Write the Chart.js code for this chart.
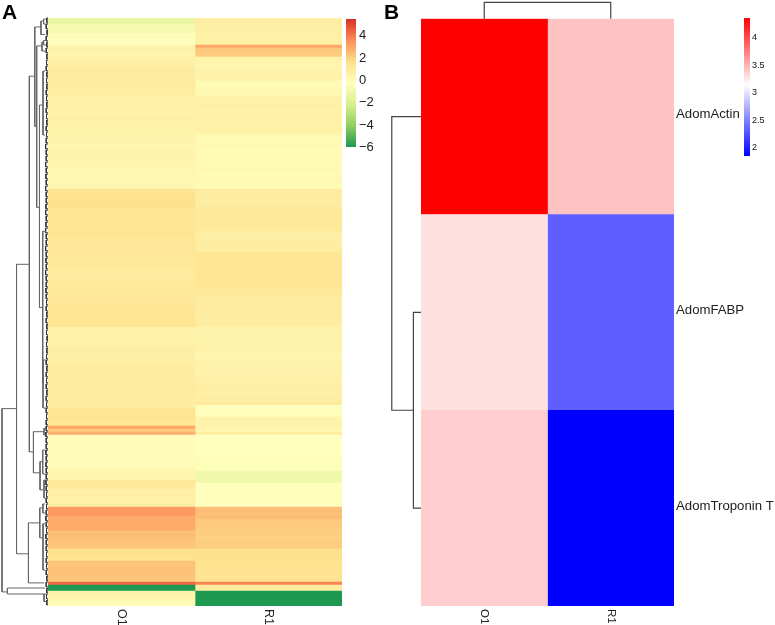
<!DOCTYPE html>
<html>
<head>
<meta charset="utf-8">
<title>Heatmaps</title>
<script src="https://cdn.jsdelivr.net/npm/chart.js@4"></script>
<style>
  html, body { margin: 0; padding: 0; background: #fff; overflow: hidden; }
  canvas { position: absolute; top: 0; }
  .panel { position: absolute; top: 0; font: bold 21px "Liberation Sans", Arial, sans-serif; color: #000; }
</style>
</head>
<body>
<canvas id="heatA" width="380" height="625" style="left:0"></canvas>
<canvas id="scaleA" width="40" height="170" style="left:340px"></canvas>
<canvas id="heatB" width="395" height="625" style="left:380px"></canvas>
<canvas id="scaleB" width="40" height="175" style="left:735px"></canvas>
<div class="panel" style="left:2px">A</div>
<div class="panel" style="left:384px">B</div>
<script>
// column labels shared by both panels
const columns = ['O1', 'R1'];

// panel A, one value per row, top to bottom
const o1Values = [
  -1.3,-1.3,-0.8,-0.8,-0.8,-0.4,-0.4,-0.3,-0.3,0.4,
  0.5,0.5,0.4,0.7,0.7,0.8,0.8,1.0,1.0,1.0,
  0.9,0.9,1.0,0.8,0.8,0.9,0.7,0.7,0.7,0.7,
  0.7,0.6,0.6,0.7,0.7,0.6,0.6,0.6,0.5,0.5,
  0.5,0.5,0.4,0.4,0.5,0.5,0.5,0.4,0.4,0.4,
  0.3,0.3,0.3,0.2,0.2,0.3,0.3,1.4,1.5,1.5,
  1.5,1.6,1.6,1.5,1.4,1.4,1.4,1.4,1.4,1.3,
  1.4,1.4,1.3,1.2,1.2,1.2,1.2,1.2,1.2,1.2,
  1.1,1.1,1.1,1.0,1.0,1.0,1.0,1.0,1.1,1.1,
  1.1,1.2,1.2,1.2,1.2,1.2,1.3,1.3,1.3,1.3,
  1.3,1.4,1.4,0.6,0.6,0.6,0.6,0.6,0.6,0.7,
  0.8,0.8,0.8,0.8,0.7,0.7,0.9,0.9,0.9,0.9,
  0.8,0.9,0.9,1.0,1.0,1.0,0.9,0.9,0.8,0.8,
  1.4,1.4,1.4,1.5,1.3,1.3,3.0,2.2,2.8,0.0,
  0.0,-0.1,0.0,0.0,0.0,-0.1,0.0,0.0,0.0,0.0,
  0.3,0.3,0.4,0.4,1.1,1.2,1.1,0.7,0.7,0.8,
  0.7,0.7,0.8,3.3,3.3,3.3,2.9,2.9,2.9,2.9,
  2.9,2.4,2.5,2.4,2.4,2.3,2.3,1.6,1.6,1.5,
  1.5,2.3,2.3,2.4,2.3,2.4,2.3,2.2,4.3,-5.9,
  -5.9,0.5,0.5,0.4,0.2,0.1
];
const r1Values = [
  0.8,0.8,0.8,0.8,0.8,0.7,0.7,0.7,0.7,3.0,
  2.2,2.2,2.1,0.5,0.5,0.4,0.4,0.5,0.6,0.6,
  0.6,0.1,0.1,0.1,0.2,0.2,0.6,0.6,0.7,0.7,
  0.6,0.6,0.7,0.7,0.7,0.6,0.6,0.7,0.6,0.1,
  0.1,0.1,0.2,0.1,0.1,0.1,0.1,0.2,0.1,0.1,
  0.2,0.1,0.1,0.2,0.2,0.1,0.1,0.9,0.9,0.9,
  0.8,0.8,0.8,1.1,1.1,1.1,1.1,1.1,1.1,1.1,
  1.1,0.8,0.8,0.8,0.9,0.8,0.8,0.8,1.3,1.3,
  1.3,1.4,1.3,1.3,1.3,1.3,1.4,1.4,1.3,1.3,
  1.1,1.1,1.1,0.9,0.9,0.9,0.9,1.0,0.9,0.9,
  0.9,0.9,0.9,0.5,0.5,0.5,0.5,0.5,0.6,0.5,
  0.5,0.5,0.4,0.4,0.5,0.5,0.5,0.5,0.5,0.7,
  0.7,0.7,0.8,0.8,0.7,0.7,0.8,0.8,1.1,-0.1,
  -0.1,-0.1,-0.1,0.5,0.5,0.5,0.5,0.3,0.9,-0.2,
  -0.2,-0.2,-0.2,-0.2,-0.2,-0.2,-0.4,-0.4,-0.4,-0.4,
  -0.4,-1.0,-1.0,-1.0,-1.0,-0.3,-0.3,-0.2,-0.3,-0.3,
  -0.2,-0.3,-0.2,2.4,2.5,2.4,2.5,2.2,2.2,2.2,
  2.1,2.1,2.1,2.0,2.1,2.1,2.1,1.6,1.6,1.6,
  1.6,1.5,1.5,1.4,1.5,1.5,1.4,1.5,3.8,0.9,
  0.9,-5.9,-5.9,-5.9,-5.9,-5.9
];

// panel A dendrogram: [height, rowA, rowB, childHeightA, childHeightB]
const treeA = [
  [.313,130.2,191.3,.214,.276],
  [.276,190,192,.02,.027],
  [.214,82.1,178.6,.127,.133],
  [.127,19.4,144.6,.09,.099],
  [.09,3,36.1,.048,.077],
  [.048,1,5.5,.03,.02],
  [.03,0.4,2,.015,.015],
  [.077,9.3,63.1,.041,.058],
  [.041,8,11,.03,.02],
  [.03,7.5,9,.015,.012],
  [.058,29,96.5,.034,.036],
  [.034,17.7,39,.02,.02],
  [.036,71.1,121.9,.014,.034],
  [.034,114,130,.014,.014],
  [.099,137.9,151.6,.027,.054],
  [.027,136.8,139,.012,.012],
  [.054,147.9,157.3,.036,.027],
  [.036,144,152,.02,.015],
  [.027,154,160,.012,.015],
  [.133,168.3,188.3,.056,.027],
  [.056,163.3,173.3,.035,.034],
  [.035,162,165,.02,.02],
  [.034,168.6,184,.02,.02],
  [.027,192,194.5,.012,.012]
];
// tiny merges at the leaf end: [height, rowA, rowB]
const leavesA = [
  [.008,0,1.6],[.012,2,3.6],[.006,4,5.6],[.012,6,7.6],[.008,8,9.6],[.012,10,11.6],[.008,12,13.6],[.01,14,15.6],
  [.012,16,17.6],[.008,18,19.6],[.01,20,21.6],[.008,22,23.6],[.012,24,25.6],[.01,26,27.6],[.008,28,29.6],[.012,30,31.6],
  [.01,32,33.6],[.008,34,35.6],[.012,36,37.6],[.01,38,39.6],[.012,40,41.6],[.016,42,43.6],[.012,44,45.6],[.012,46,47.6],
  [.016,48,49.6],[.012,50,51.6],[.014,52,53.6],[.012,54,55.6],[.016,56,57.6],[.012,58,59.6],[.012,60,61.6],[.014,62,63.6],
  [.016,64,65.6],[.012,66,67.6],[.014,68,69.6],[.016,70,71.6],[.012,72,73.6],[.012,74,75.6],[.016,76,77.6],[.012,78,79.6],
  [.014,80,81.6],[.012,82,83.6],[.016,84,85.6],[.012,86,87.6],[.012,88,89.6],[.014,90,91.6],[.012,92,93.6],[.01,94,95.6],
  [.012,96,97.6],[.008,98,99.6],[.012,100,101.6],[.008,102,103.6],[.01,104,105.6],[.006,106,107.6],[.01,108,109.6],[.008,110,111.6],
  [.01,112,113.6],[.012,114,115.6],[.008,116,117.6],[.012,118,119.6],[.01,120,121.6],[.012,122,123.6],[.008,124,125.6],[.012,126,127.6],
  [.01,128,129.6],[.012,130,131.6],[.01,132,133.6],[.012,134,135.6],[.012,136,137.6],[.014,138,139.6],[.012,140,141.6],[.012,142,143.6],
  [.014,144,145.6],[.012,146,147.6],[.014,148,149.6],[.012,150,151.6],[.012,152,153.6],[.014,154,155.6],[.012,156,157.6],[.01,158,159.6],
  [.012,160,161.6],[.01,162,163.6],[.012,164,165.6],[.014,166,167.6],[.012,168,169.6],[.01,170,171.6],[.014,172,173.6],[.012,174,175.6],
  [.012,176,177.6],[.01,178,179.6],[.012,180,181.6],[.01,182,183.6],[.012,184,185.6],[.008,186,187.6],[.012,188,189.6],[.008,190,191.6],
  [.01,192,193.6],[.008,194,195.6]
];

// panel A colour scale
const scaleAMin = -5.95;
const scaleAMax = 5.5;
const scaleATicks = [-6, -4, -2, 0, 2, 4];
const rampA = ['#1a9850', '#91cf60', '#d9ef8b', '#ffffbf', '#fee08b', '#fc8d59', '#d73027'];

// panel B
const rowsB = ['AdomActin', 'AdomFABP', 'AdomTroponin T'];
const o1ValuesB = [4.36, 3.29, 3.38];
const r1ValuesB = [3.43, 2.33, 1.85];
const treeB = [
  [.231, .5, 2, 0, .06],
  [.06, 1.5, 2.5, 0, 0]
];
const columnTreeB = [.083, .5, 1.5];
const scaleBMin = 1.85;
const scaleBMid = 3.14;
const scaleBMax = 4.36;
const scaleBTicks = [2, 2.5, 3, 3.5, 4];

const hexToRgb = hex => [1, 3, 5].map(i => parseInt(hex.slice(i, i + 2), 16));
const mix = (a, b, t) => {
  const ca = hexToRgb(a), cb = hexToRgb(b);
  const c = ca.map((v, i) => Math.round(v + (cb[i] - v) * t));
  return `rgb(${c[0]},${c[1]},${c[2]})`;
};

const colorA = v => {
  const pos = Math.min(Math.max((v - scaleAMin) / (scaleAMax - scaleAMin), 0), 1) * (rampA.length - 1);
  const i = Math.min(Math.floor(pos), rampA.length - 2);
  return mix(rampA[i], rampA[i + 1], pos - i);
};
const colorB = v => {
  if (v >= scaleBMid) return mix('#ffffff', '#ff0000', (v - scaleBMid) / (scaleBMax - scaleBMid));
  return mix('#ffffff', '#0000ff', (scaleBMid - v) / (scaleBMid - scaleBMin));
};

const lineSet = (data, color, width) => ({
  type: 'scatter',
  indexAxis: 'x',
  xAxisID: 'x',
  yAxisID: 'yTree',
  data: data,
  showLine: true,
  fill: false,
  clip: false,
  borderColor: color,
  borderWidth: width,
  pointRadius: 0
});
const bracket = (h, a, b, ha, hb) => [{ x: -ha, y: a }, { x: -h, y: a }, { x: -h, y: b }, { x: -hb, y: b }];

const heatSet = (span, colors) => ({
  type: 'bar',
  indexAxis: 'y',
  xAxisID: 'x',
  yAxisID: 'y',
  data: colors.map(() => span),
  backgroundColor: colors,
  borderWidth: 0,
  grouped: false,
  barPercentage: 1,
  categoryPercentage: 1
});

// rotated column names, centred under each column
const columnLabels = font => ({
  id: 'columnLabels',
  afterDraw(chart) {
    const { ctx, scales, chartArea } = chart;
    ctx.save();
    ctx.font = font;
    ctx.fillStyle = '#222';
    ctx.textBaseline = 'middle';
    columns.forEach((name, i) => {
      ctx.save();
      ctx.translate(scales.x.getPixelForValue(i + 0.5), chartArea.bottom + 3);
      ctx.rotate(Math.PI / 2);
      ctx.fillText(name, 0, 0);
      ctx.restore();
    });
    ctx.restore();
  }
});

const baseOptions = {
  responsive: false,
  animation: false,
  events: [],
  plugins: { legend: { display: false }, tooltip: { enabled: false } }
};

// panel A
new Chart(document.getElementById('heatA'), {
  type: 'bar',
  data: {
    labels: o1Values.map((v, i) => i),
    datasets: [
      heatSet([0, 1], o1Values.map(colorA)),
      heatSet([1, 2], r1Values.map(colorA)),
      ...treeA.map(m => lineSet(bracket(...m), '#666', 1)),
      ...leavesA.map(m => lineSet(bracket(m[0], m[1], m[2], 0, 0), '#333', 1))
    ]
  },
  options: {
    ...baseOptions,
    layout: { padding: { left: 48, right: 38, top: 18, bottom: 19 } },
    scales: {
      x: { type: 'linear', min: 0, max: 2, offset: false, display: false },
      y: { type: 'category', offset: true, display: false },
      yTree: { type: 'linear', axis: 'y', min: 0, max: o1Values.length, reverse: true, display: false }
    }
  },
  plugins: [columnLabels('12.5px "Liberation Sans", Arial, sans-serif')]
});

// colour bars are one floating bar filled along the value axis
const colorBar = (id, min, max, stops, ticks, padding, axisWidth, tickOpts, format) => new Chart(document.getElementById(id), {
  type: 'bar',
  data: {
    labels: [''],
    datasets: [{
      data: [[min, max]],
      borderWidth: 0,
      barPercentage: 1,
      categoryPercentage: 1,
      backgroundColor: ctx => {
        const chart = ctx.chart;
        if (!chart.chartArea) return '#fff';
        const y = chart.scales.y;
        const g = chart.ctx.createLinearGradient(0, y.getPixelForValue(min), 0, y.getPixelForValue(max));
        stops.forEach((c, i) => g.addColorStop(c[0], c[1]));
        return g;
      }
    }]
  },
  options: {
    ...baseOptions,
    layout: { padding },
    scales: {
      x: { display: false },
      y: {
        type: 'linear',
        position: 'right',
        min: min,
        max: max,
        afterBuildTicks: axis => { axis.ticks = ticks.map(value => ({ value })); },
        afterFit: axis => { axis.width = axisWidth; },
        grid: { display: false, drawTicks: false },
        border: { display: false },
        ticks: { ...tickOpts, autoSkip: false, callback: format }
      }
    }
  }
});

colorBar('scaleA', scaleAMin, scaleAMax,
  rampA.map((c, i) => [i / (rampA.length - 1), c]),
  scaleATicks,
  { left: 6, top: 19, bottom: 23, right: 0 }, 24,
  { color: '#222', padding: 3, font: { family: '"Liberation Sans", Arial, sans-serif', size: 13 } },
  v => String(v).replace('-', '\u2212'));

colorBar('scaleB', scaleBMin, scaleBMax,
  [[0, '#0000ff'], [(scaleBMid - scaleBMin) / (scaleBMax - scaleBMin), '#ffffff'], [1, '#ff0000']],
  scaleBTicks,
  { left: 9, top: 18, bottom: 19, right: 0 }, 25,
  { color: '#111', padding: 2, font: { family: '"Liberation Sans Narrow", "Liberation Sans", sans-serif', size: 9 } },
  v => String(v));

// panel B
new Chart(document.getElementById('heatB'), {
  type: 'bar',
  data: {
    labels: rowsB,
    datasets: [
      heatSet([0, 1], o1ValuesB.map(colorB)),
      heatSet([1, 2], r1ValuesB.map(colorB)),
      ...treeB.map(m => lineSet(bracket(...m), '#444', 1.2)),
      lineSet([
        { x: columnTreeB[1], y: 0 },
        { x: columnTreeB[1], y: -columnTreeB[0] },
        { x: columnTreeB[2], y: -columnTreeB[0] },
        { x: columnTreeB[2], y: 0 }
      ], '#444', 1.2)
    ]
  },
  options: {
    ...baseOptions,
    layout: { padding: { left: 41, right: 0, top: 18.7, bottom: 19 } },
    scales: {
      x: { type: 'linear', min: 0, max: 2, offset: false, display: false },
      y: {
        type: 'category',
        position: 'right',
        offset: true,
        afterFit: axis => { axis.width = 101; },
        grid: { display: false, drawTicks: false },
        border: { display: false },
        ticks: { color: '#222', padding: 2, labelOffset: -2, autoSkip: false, font: { family: '"Liberation Sans", Arial, sans-serif', size: 13.2 } }
      },
      yTree: { type: 'linear', axis: 'y', min: 0, max: rowsB.length, reverse: true, display: false }
    }
  },
  plugins: [columnLabels('11.5px "Liberation Sans", Arial, sans-serif')]
});
</script>
</body>
</html>
